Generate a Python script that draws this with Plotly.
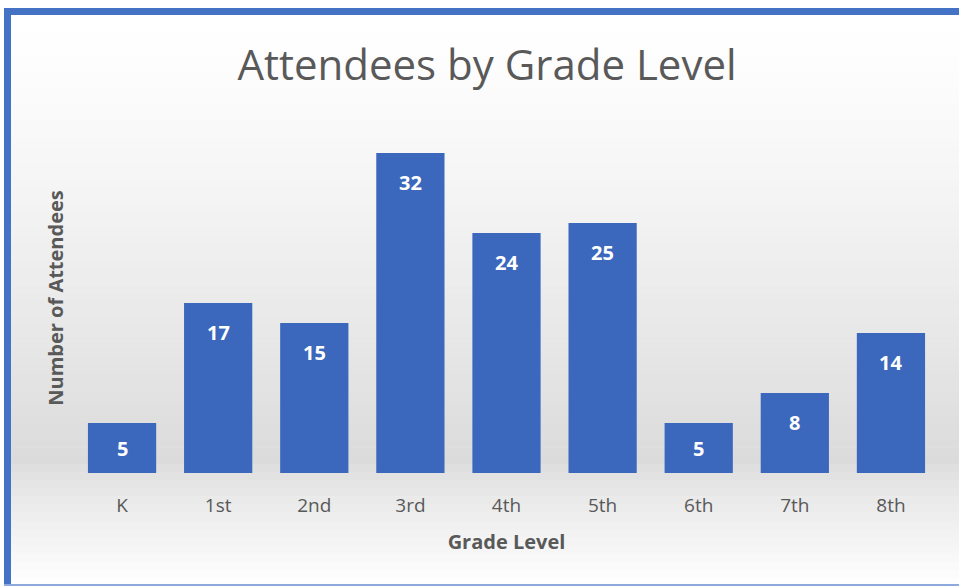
import plotly.graph_objects as go

grades = ["K", "1st", "2nd", "3rd", "4th", "5th", "6th", "7th", "8th"]
attendees = [5, 17, 15, 32, 24, 25, 5, 8, 14]

W, H = 959, 586
ML, MR, MT, MB = 74, 20, 123, 113
PW, PH = W - ML - MR, H - MT - MB

def px_x(p):
    return (p - ML) / PW

def px_y(p):
    return (H - MB - p) / PH

fig = go.Figure()
fig.add_trace(go.Bar(
    x=grades, y=attendees,
    marker=dict(color="#3B68BC", line=dict(width=0)),
    hoverinfo="x+y",
))

shapes = []
# background gradient: white at top -> light gray near baseline -> white at bottom
N = 70
for i in range(N):
    y0 = 15 + (H - 15) * i / N
    y1 = 15 + (H - 15) * (i + 1) / N + 0.5
    ym = (y0 + y1) / 2
    if ym < 460:
        t = (ym - 15) / (460 - 15)
        g = 255 - 36 * t ** 1.3
    else:
        t = (ym - 460) / (H - 460)
        g = 219 + 36 * min(1, t ** 0.8)
    g = int(round(g))
    shapes.append(dict(type="rect", xref="paper", yref="paper", layer="below",
                       x0=px_x(11), x1=px_x(W), y0=px_y(y1), y1=px_y(y0),
                       fillcolor=f"rgb({g},{g},{g})", line=dict(width=0)))
# frame
shapes.append(dict(type="rect", xref="paper", yref="paper", layer="above",
                   x0=px_x(4), x1=px_x(W), y0=px_y(15), y1=px_y(8),
                   fillcolor="#4472C4", line=dict(width=0)))
shapes.append(dict(type="rect", xref="paper", yref="paper", layer="above",
                   x0=px_x(4), x1=px_x(11), y0=px_y(H), y1=px_y(8),
                   fillcolor="#4472C4", line=dict(width=0)))
shapes.append(dict(type="rect", xref="paper", yref="paper", layer="above",
                   x0=px_x(4), x1=px_x(W), y0=px_y(H), y1=px_y(H - 2),
                   fillcolor="#8EA9DB", line=dict(width=0)))

annotations = []
ppu = PH / 35.0
for g, v in zip(grades, attendees):
    h = v * ppu
    off = min(29, h / 2)
    annotations.append(dict(x=g, y=v, xref="x", yref="y", text=str(v),
                            showarrow=False, yshift=-off, yanchor="middle",
                            font=dict(family="Open Sans", size=20, color="white", weight="bold")))

fig.update_layout(
    width=W, height=H,
    margin=dict(l=ML, r=MR, t=MT, b=MB),
    paper_bgcolor="white", plot_bgcolor="rgba(0,0,0,0)",
    title=dict(text="Attendees by Grade Level", x=487 / W, xanchor="center",
               y=1 - 65 / H, yanchor="middle",
               font=dict(family="Open Sans", size=42, color="#595959")),
    bargap=0.29,
    showlegend=False,
    shapes=shapes,
    annotations=annotations,
    xaxis=dict(showline=False, showgrid=False, zeroline=False,
               ticks="outside", ticklen=15, tickcolor="rgba(0,0,0,0)",
               tickfont=dict(family="Open Sans", size=19, color="#595959"),
               title=dict(text="Grade Level", standoff=18,
                          font=dict(family="Open Sans", size=20, color="#595959", weight="bold"))),
    yaxis=dict(range=[0, 35], showticklabels=False, showgrid=False, zeroline=False,
               showline=False, ticks="",
               title=dict(text="Number of Attendees", standoff=4,
                          font=dict(family="Open Sans", size=20, color="#595959", weight="bold"))),
)

fig.write_html("out.html", config={"displayModeBar": False},
               post_script="document.body.style.margin='0';")
